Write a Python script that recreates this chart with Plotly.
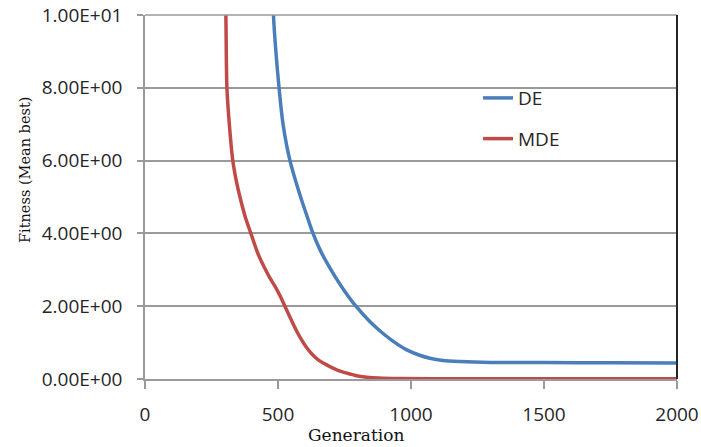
import plotly.graph_objects as go

# Data
de_gen = [478, 483, 492, 504, 519, 545, 585, 607, 629, 660, 695, 714, 750, 793, 845, 895, 940, 984,
          1030, 1071, 1120, 1184, 1300, 1500, 1750, 2000]
de_fit = [12.0, 10.0, 9.0, 8.0, 7.0, 6.0, 5.0, 4.52, 4.05, 3.52, 3.05, 2.82, 2.42, 2.0, 1.58, 1.25, 1.0, 0.8,
          0.66, 0.57, 0.51, 0.48, 0.455, 0.45, 0.445, 0.44]

mde_gen = [296, 300, 304, 308, 317, 330, 343, 357, 377, 398, 426, 450, 470, 490, 508, 526, 550, 575,
           595, 613, 632, 650, 672, 695, 725, 759, 795, 834, 880, 950, 1100, 1500, 2000]
mde_fit = [12.0, 11.0, 10.0, 8.0, 7.0, 6.0, 5.45, 5.0, 4.45, 4.0, 3.42, 3.05, 2.77, 2.53, 2.28, 2.0, 1.62, 1.25,
           1.0, 0.81, 0.65, 0.53, 0.43, 0.34, 0.24, 0.16, 0.09, 0.05, 0.025, 0.012, 0.01, 0.01, 0.01]

y_tickvals = [0, 2, 4, 6, 8, 10]
y_ticktext = ["0.00E+00", "2.00E+00", "4.00E+00", "6.00E+00", "8.00E+00", "1.00E+01"]
x_tickvals = [0, 500, 1000, 1500, 2000]

BLUE = "#4A7EBB"
RED = "#BE4B48"
TXT = "#262626"
GRID = "#9A9A9A"
SANS = '"Open Sans", sans-serif'
SERIF = '"DejaVu Serif", serif'
FS = 19

fig = go.Figure()
fig.add_trace(go.Scatter(x=de_gen, y=de_fit, mode="lines", name="DE",
                         line=dict(color=BLUE, width=3.5, shape="spline", smoothing=0.9),
                         legendgroup="a"))
fig.add_trace(go.Scatter(x=mde_gen, y=mde_fit, mode="lines", name="MDE",
                         line=dict(color=RED, width=3.5, shape="spline", smoothing=0.9),
                         legendgroup="b"))

fig.update_layout(
    width=701, height=447,
    margin=dict(l=145, r=24, t=15, b=68, autoexpand=False),
    paper_bgcolor="white", plot_bgcolor="white",
    font=dict(family=SANS, size=FS, color=TXT),
    showlegend=True,
    legend=dict(x=0.626, y=0.824, xanchor="left", yanchor="top",
                bgcolor="rgba(0,0,0,0)", tracegroupgap=13,
                font=dict(family=SANS, size=FS, color=TXT)),
    xaxis=dict(range=[0, 2000], tickvals=x_tickvals, showgrid=False, zeroline=False,
               automargin=False, ticklabeloverflow="allow",
               showline=True, linecolor=GRID, linewidth=1.5,
               ticks="outside", ticklen=8, tickcolor=GRID, tickwidth=1.5,
               ticklabelstandoff=9, tickfont=dict(family=SANS, size=FS, color=TXT)),
    yaxis=dict(range=[0, 10], tickvals=y_tickvals, ticktext=y_ticktext,
               automargin=False, ticklabeloverflow="allow",
               showgrid=True, gridcolor=GRID, gridwidth=1.5, zeroline=False,
               showline=True, linecolor=GRID, linewidth=1.5,
               ticks="outside", ticklen=6, tickcolor=GRID, tickwidth=1.5,
               ticklabelstandoff=11, tickfont=dict(family=SANS, size=FS, color=TXT)),
    shapes=[
        dict(type="line", xref="paper", yref="paper", x0=0, x1=1, y0=1, y1=1,
             line=dict(color=GRID, width=1.5)),
        dict(type="line", xref="paper", yref="paper", x0=1, x1=1, y0=0, y1=1,
             line=dict(color=TXT, width=2)),
    ],
    annotations=[
        dict(text="Generation", xref="paper", yref="paper",
             x=(356 - 145) / 532, y=-(435 - 379) / 364, xanchor="center", yanchor="middle",
             showarrow=False, font=dict(family=SERIF, size=17, color="#111")),
        dict(text="Fitness (Mean best)", xref="paper", yref="paper",
             x=-(145 - 25) / 532, y=(379 - 170) / 364, xanchor="center", yanchor="middle",
             textangle=-90, showarrow=False,
             font=dict(family=SERIF, size=14.5, color="#111")),
    ],
)

fig.write_html("out.html", config={"displayModeBar": False},
               post_script="document.body.style.margin='0';")
